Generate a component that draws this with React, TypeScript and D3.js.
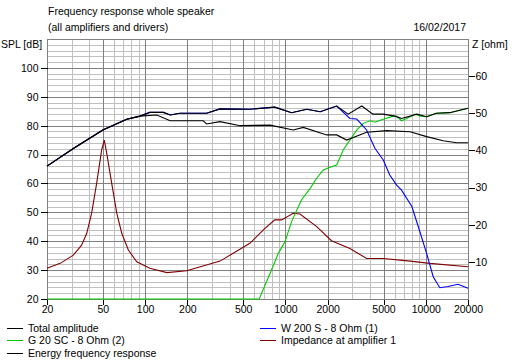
import React, { useEffect, useRef } from "react";
import * as d3 from "d3";

// frequency response values (Hz, dB)
const totalFreq = [20, 31, 50, 74, 92, 108, 135, 151, 177, 274, 342, 558, 840, 1106, 1420, 1770, 2320, 2800, 3500, 4200, 4980, 6020, 6720, 7740, 8640, 10140, 11900, 14800, 20000];
const totalDb = [66, 72.2, 78.5, 82.2, 83.3, 84.6, 84.6, 83.7, 84.3, 84.3, 85.8, 85.7, 86.4, 84.5, 85.7, 84.8, 86.8, 84, 86.8, 84, 84, 83.3, 82.5, 83.3, 84, 83.1, 84.3, 84.5, 86];

const energyFreq = [20, 31, 50, 74, 92, 121, 151, 260, 274, 342, 475, 778, 1136, 1340, 1970, 2320, 2730, 3380, 3790, 5270, 7740, 10140, 13300, 16600, 20000];
const energyDb = [66, 72.2, 78.5, 82.2, 83.3, 83.7, 81.7, 81.7, 80.6, 81.4, 80, 80.2, 78.5, 79.4, 76.8, 76.8, 75, 76.8, 77.7, 78.3, 77.9, 76.2, 74.8, 74.1, 74.1];

const wooferFreq = [20, 31, 50, 74, 92, 108, 135, 151, 177, 274, 342, 558, 840, 1106, 1420, 1770, 2080, 2320, 2880, 3220, 3790, 4340, 4980, 5540, 6180, 6720, 7960, 8850, 10140, 11300, 12600, 14400, 17000, 20000];
const wooferDb = [66, 72.2, 78.5, 82.2, 83.3, 84.6, 84.6, 83.7, 84.3, 84.3, 85.8, 85.7, 86.4, 84.5, 85.7, 84.8, 86, 86.8, 82.5, 82.3, 78.5, 72.2, 68.1, 62.9, 59.5, 57.7, 52, 45, 35.8, 27.7, 23.9, 24.3, 25.1, 23.7];

const tweeterFreq = [20, 650, 778, 890, 992, 1106, 1300, 1500, 1670, 1860, 2080, 2320, 2580, 2880, 3220, 3580, 4020, 4340, 4980, 5860, 6180, 6720, 7320, 8400, 9140, 10140, 11900, 14800, 20000];
const tweeterDb = [20, 20, 28.9, 35.8, 39.8, 46.8, 54.3, 58.3, 61.8, 64.7, 65.6, 66.4, 71.6, 75, 78.5, 80.8, 81.7, 81.2, 82.2, 83.3, 83.3, 81.7, 82.5, 84, 83.3, 83.1, 84.3, 84.5, 86];

// impedance at amplifier 1 (Hz, ohm)
const impFreq = [20, 24.8, 30.8, 35.3, 38.4, 41.6, 45.2, 49, 51.2, 53.3, 57.8, 62.8, 68.2, 76, 87.2, 108, 143, 198, 342, 558, 696, 840, 940, 1136, 1270, 1670, 2130, 2880, 3790, 4980, 7740, 10700, 20000];
const impOhm = [8.3, 9.6, 11.8, 14.5, 17.7, 23.1, 31.2, 40.1, 42.8, 39.2, 31.2, 23.1, 17.7, 13.2, 10, 8.3, 7.1, 7.6, 10.2, 15, 18.6, 21.3, 21.3, 23.1, 22.9, 19.5, 15.7, 13.6, 10.9, 10.9, 10.2, 9.6, 8.7];

const freqTicks = [20, 50, 100, 200, 500, 1000, 2000, 5000, 10000, 20000];
const splTicks = [20, 30, 40, 50, 60, 70, 80, 90, 100];
const ohmTicks = [10, 20, 30, 40, 50, 60];

const legendLeft = [
  { label: "Total amplitude", color: "#000000" },
  { label: "G 20 SC - 8 Ohm (2)", color: "#00c800" },
  { label: "Energy frequency response", color: "#000000" },
];
const legendRight = [
  { label: "W 200 S - 8 Ohm (1)", color: "#0000ff" },
  { label: "Impedance at amplifier 1", color: "#800000" },
];

const W = 512;
const H = 361;
const left = 47;
const right = 468;
const top = 39;
const bottom = 299;
const font = "'Liberation Sans', Arial, sans-serif";
const fs = 10.5;

export default function App() {
  const ref = useRef<SVGSVGElement>(null);

  useEffect(() => {
    const svg = d3.select(ref.current);
    svg.selectAll("*").remove();

    const x = d3.scaleLog().domain([20, 20000]).range([left, right]);
    const y = d3.scaleLinear().domain([20, 110]).range([bottom, top]);
    const z = d3.scaleLinear().domain([0, 70]).range([bottom, top]);

    const grid = svg.append("g").attr("shape-rendering", "crispEdges");

    // minor grid: every 2 dB, and 1..9 in each decade
    const minorDb = d3.range(22, 110, 2).filter((v) => v % 10 !== 0);
    grid.selectAll(".hmin").data(minorDb).join("line")
      .attr("x1", left).attr("x2", right)
      .attr("y1", (d) => Math.round(y(d)) + 0.5).attr("y2", (d) => Math.round(y(d)) + 0.5)
      .attr("stroke", "#c0c0c0");
    const minorF: number[] = [];
    [10, 100, 1000, 10000].forEach((dec) => {
      for (let k = 1; k < 10; k++) {
        const f = dec * k;
        if (f > 20 && f < 20000 && !freqTicks.includes(f)) minorF.push(f);
      }
    });
    grid.selectAll(".vmin").data(minorF).join("line")
      .attr("x1", (d) => Math.round(x(d)) + 0.5).attr("x2", (d) => Math.round(x(d)) + 0.5)
      .attr("y1", top).attr("y2", bottom)
      .attr("stroke", "#c0c0c0");

    // major grid
    grid.selectAll(".hmaj").data(d3.range(30, 110, 10)).join("line")
      .attr("x1", left).attr("x2", right)
      .attr("y1", (d) => Math.round(y(d)) + 0.5).attr("y2", (d) => Math.round(y(d)) + 0.5)
      .attr("stroke", "#808080");
    grid.selectAll(".vmaj").data(freqTicks.slice(1, -1)).join("line")
      .attr("x1", (d) => Math.round(x(d)) + 0.5).attr("x2", (d) => Math.round(x(d)) + 0.5)
      .attr("y1", top).attr("y2", bottom)
      .attr("stroke", "#808080");

    grid.append("rect")
      .attr("x", left + 0.5).attr("y", top + 0.5)
      .attr("width", right - left).attr("height", bottom - top)
      .attr("fill", "none").attr("stroke", "#808080");

    // axes
    const axes = svg.append("g");
    axes.append("g").attr("transform", `translate(${left + 0.5},0)`)
      .call(d3.axisLeft(y).tickValues(splTicks).tickSize(7).tickPadding(2))
      .call((g) => g.select(".domain").remove());
    axes.append("g").attr("transform", `translate(${right + 0.5},0)`)
      .call(d3.axisRight(z).tickValues(ohmTicks).tickSize(6).tickPadding(1))
      .call((g) => g.select(".domain").remove());
    axes.append("g").attr("transform", `translate(0,${bottom + 0.5})`)
      .call(d3.axisBottom(x).tickValues(freqTicks).tickFormat(d3.format("d")).tickSize(5).tickPadding(1))
      .call((g) => g.select(".domain").remove());
    axes.selectAll("text").attr("fill", "#000").attr("font-family", font).attr("font-size", fs);
    axes.selectAll(".tick line").attr("stroke", "#000").attr("shape-rendering", "crispEdges");

    // curves
    const plot = svg.append("g").attr("fill", "none").attr("stroke-width", 1.1);
    const splLine = (fq: number[], vs: number[]) =>
      d3.line<number>().x((_, i) => x(fq[i])).y((_, i) => y(vs[i]))(vs);
    const ohmLine = d3.line<number>().x((_, i) => x(impFreq[i])).y((_, i) => z(impOhm[i]));

    plot.append("path").attr("d", ohmLine(impOhm)).attr("stroke", "#800000");
    plot.append("path").attr("d", splLine(tweeterFreq, tweeterDb)).attr("stroke", "#00c800");
    plot.append("path").attr("d", splLine(wooferFreq, wooferDb)).attr("stroke", "#0000ff");
    plot.append("path").attr("d", splLine(energyFreq, energyDb)).attr("stroke", "#000");
    plot.append("path").attr("d", splLine(totalFreq, totalDb)).attr("stroke", "#000");

    // titles and axis names
    const t = svg.append("g").attr("font-family", font).attr("font-size", fs).attr("fill", "#000");
    t.append("text").attr("x", 48).attr("y", 15).text("Frequency response whole speaker");
    t.append("text").attr("x", 48).attr("y", 31).text("(all amplifiers and drivers)");
    t.append("text").attr("x", 466).attr("y", 31).attr("text-anchor", "end").text("16/02/2017");
    t.append("text").attr("x", 1).attr("y", 48).text("SPL [dB]");
    t.append("text").attr("x", 472).attr("y", 48).text("Z [ohm]");

    // legend
    const drawLegend = (items: { label: string; color: string }[], x0: number, x1: number, tx: number) => {
      const g = svg.append("g").attr("font-family", font).attr("font-size", fs);
      items.forEach((it, i) => {
        const cy = 327.5 + i * 12.6;
        g.append("line").attr("x1", x0).attr("x2", x1)
          .attr("y1", Math.round(cy) + 0.5).attr("y2", Math.round(cy) + 0.5)
          .attr("stroke", it.color).attr("shape-rendering", "crispEdges");
        g.append("text").attr("x", tx).attr("y", cy + 4).attr("fill", "#000").text(it.label);
      });
    };
    drawLegend(legendLeft, 7, 23, 28);
    drawLegend(legendRight, 260, 276, 281);
  }, []);

  return (
    <svg ref={ref} width={W} height={H} style={{ position: "absolute", left: 0, top: 0, background: "#fff" }} />
  );
}
